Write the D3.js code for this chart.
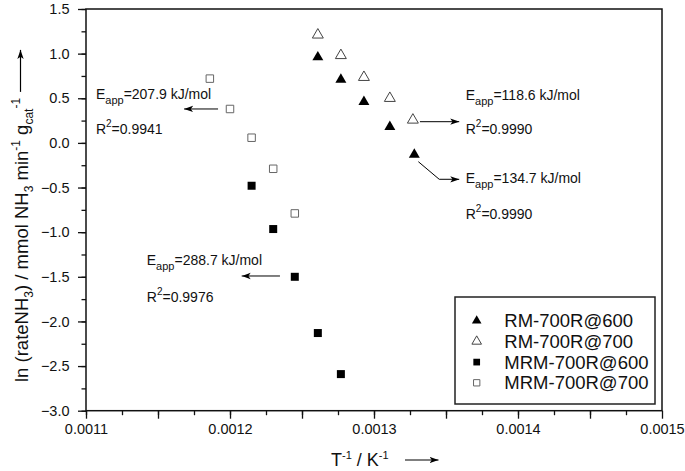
<!DOCTYPE html>
<html>
<head>
<meta charset="utf-8">
<script src="https://cdn.jsdelivr.net/npm/d3@7/dist/d3.min.js"></script>
<style>
  html, body { margin: 0; padding: 0; background: #fff; }
  svg { display: block; font-family: "Liberation Sans", Arial, sans-serif; }
</style>
</head>
<body>
<svg id="chart" width="685" height="471"></svg>
<script>
// ---- data ----
const seriesNames = ["RM-700R@600", "RM-700R@700", "MRM-700R@600", "MRM-700R@700"];
const rm600X  = [0.001261, 0.001277, 0.001293, 0.001311, 0.001328];
const rm600Y  = [0.96, 0.71, 0.46, 0.18, -0.13];
const rm700X  = [0.001261, 0.001277, 0.001293, 0.001311, 0.001327];
const rm700Y  = [1.21, 0.98, 0.735, 0.50, 0.257];
const mrm600X = [0.001215, 0.001230, 0.001245, 0.001261, 0.001277];
const mrm600Y = [-0.48, -0.965, -1.50, -2.13, -2.59];
const mrm700X = [0.001186, 0.001200, 0.001215, 0.001230, 0.001245];
const mrm700Y = [0.72, 0.38, 0.058, -0.29, -0.79];

const xTickLabels = [0.0011, 0.0012, 0.0013, 0.0014, 0.0015];
const yTickLabels = [1.5, 1.0, 0.5, 0.0, -0.5, -1.0, -1.5, -2.0, -2.5, -3.0];

// annotations (data coordinates)
const annEapp = ["207.9", "118.6", "134.7", "288.7"];
const annR2   = ["0.9941", "0.9990", "0.9990", "0.9976"];
const annTextX = [0.0011069, 0.0013637, 0.0013637, 0.0011422];
const annEY    = [0.497, 0.486, -0.449, -1.368];
const annRY    = [0.0997, 0.0997, -0.858, -1.782];
const annArrows = [
  [[0.0011917, 0.380], [0.0011681, 0.380]],
  [[0.0013319, 0.2375], [0.0013592, 0.2375]],
  [[0.0013308, -0.2105], [0.0013453, -0.4077], [0.0013592, -0.4077]],
  [[0.0012347, -1.491], [0.0012081, -1.491]]
];

// ---- layout ----
const svg = d3.select("#chart");
const L = 86, R = 662, T = 9, B = 410.7;
const x = d3.scaleLinear().domain([0.0011, 0.0015]).range([L, R]);
const y = d3.scaleLinear().domain([-3.0, 1.5]).range([B, T]);

// arrow marker
svg.append("defs").append("marker")
  .attr("id", "ah").attr("viewBox", "0 0 10 10").attr("refX", 10).attr("refY", 5)
  .attr("markerWidth", 9).attr("markerHeight", 9).attr("markerUnits", "userSpaceOnUse")
  .attr("orient", "auto")
  .append("path").attr("d", "M0,1.5 L10,5 L0,8.5 L2.5,5 Z").attr("fill", "#000");

// axes
const xMajor = d3.range(0, 9).map(i => 0.0011 + i * 0.00005);
const xMinor = d3.range(0, 16).map(i => 0.0011 + i * 0.000025);
const yMinor = d3.range(0, 19).map(i => -3.0 + i * 0.25);
const isXLab = d => xTickLabels.some(v => Math.abs(v - d) < 1e-9);

const gxMin = svg.append("g").attr("transform", `translate(0,${B})`)
  .call(d3.axisBottom(x).tickValues(xMinor).tickSize(4.5).tickFormat(""));
const gx = svg.append("g").attr("transform", `translate(0,${B})`)
  .call(d3.axisBottom(x).tickValues(xMajor).tickSize(8).tickPadding(5)
    .tickFormat(d => isXLab(d) ? d3.format(".4f")(d) : ""));
const gyMin = svg.append("g").attr("transform", `translate(${L},0)`)
  .call(d3.axisLeft(y).tickValues(yMinor).tickSize(4.5).tickFormat(""));
const gy = svg.append("g").attr("transform", `translate(${L},0)`)
  .call(d3.axisLeft(y).tickValues(yTickLabels).tickSize(8).tickPadding(8.5)
    .tickFormat(d3.format(".1f")));

[gxMin, gx, gyMin, gy].forEach(g => {
  g.select(".domain").remove();
  g.selectAll("line").attr("stroke", "#111").attr("stroke-width", 1.3);
  g.selectAll("text").attr("fill", "#111").attr("font-size", 14.5)
    .attr("font-family", "Liberation Sans, Arial, sans-serif");
});

// frame
svg.append("rect").attr("x", L).attr("y", T).attr("width", R - L).attr("height", B - T)
  .attr("fill", "none").attr("stroke", "#111").attr("stroke-width", 1.5);

// ---- marks ----
const tri = d3.symbol().type(d3.symbolTriangle);
const sq = d3.symbol().type(d3.symbolSquare);
const series = [
  { xs: rm600X,  ys: rm600Y,  shape: tri, size: 52, fill: "#000", stroke: "none" },
  { xs: rm700X,  ys: rm700Y,  shape: tri, size: 52, fill: "#fff", stroke: "#444" },
  { xs: mrm600X, ys: mrm600Y, shape: sq,  size: 64, fill: "#000", stroke: "none" },
  { xs: mrm700X, ys: mrm700Y, shape: sq,  size: 56, fill: "#fff", stroke: "#666" }
];
series.forEach(s => {
  svg.append("g").selectAll("path")
    .data(s.xs.map((v, i) => [v, s.ys[i]]))
    .join("path")
    .attr("transform", d => `translate(${x(d[0])},${y(d[1])})`)
    .attr("d", s.shape.size(s.size)())
    .attr("fill", s.fill).attr("stroke", s.stroke).attr("stroke-width", 1);
});

// ---- annotations ----
const line = d3.line().x(d => x(d[0])).y(d => y(d[1]));
annArrows.forEach(a => {
  svg.append("path").attr("d", line(a)).attr("fill", "none")
    .attr("stroke", "#000").attr("stroke-width", 1).attr("marker-end", "url(#ah)");
});
annEapp.forEach((e, i) => {
  const t = svg.append("text").attr("x", x(annTextX[i])).attr("y", y(annEY[i]))
    .attr("font-size", 14).attr("fill", "#111");
  t.append("tspan").text("E");
  t.append("tspan").attr("font-size", 11).attr("dy", 5).text("app");
  t.append("tspan").attr("dy", -5).text("=" + e + " kJ/mol");
  const r = svg.append("text").attr("x", x(annTextX[i])).attr("y", y(annRY[i]))
    .attr("font-size", 14).attr("fill", "#111");
  r.append("tspan").text("R");
  r.append("tspan").attr("font-size", 10).attr("dy", -7).text("2");
  r.append("tspan").attr("dy", 7).text("=" + annR2[i]);
});

// ---- legend ----
const lg = svg.append("g");
lg.append("rect").attr("x", 455).attr("y", 297).attr("width", 200).attr("height", 107)
  .attr("fill", "#fff").attr("stroke", "#222").attr("stroke-width", 1.5);
const legSym = [
  { shape: tri, size: 40, fill: "#000", stroke: "none" },
  { shape: tri, size: 40, fill: "#fff", stroke: "#444" },
  { shape: sq,  size: 45, fill: "#000", stroke: "none" },
  { shape: sq,  size: 40, fill: "#fff", stroke: "#666" }
];
seriesNames.forEach((n, i) => {
  const cy = 320.7 + i * 20.7;
  lg.append("path").attr("transform", `translate(476.7,${cy})`)
    .attr("d", legSym[i].shape.size(legSym[i].size)())
    .attr("fill", legSym[i].fill).attr("stroke", legSym[i].stroke).attr("stroke-width", 1);
  lg.append("text").attr("x", 504.3).attr("y", cy).attr("dy", "0.36em")
    .attr("font-size", 18.5).attr("fill", "#111").text(n);
});

// ---- axis titles ----
const xt = svg.append("text").attr("x", 331).attr("y", 466).attr("font-size", 18).attr("fill", "#111");
xt.append("tspan").text("T");
xt.append("tspan").attr("font-size", 11).attr("dy", -7).text("-1");
xt.append("tspan").attr("dy", 7).text(" / K");
xt.append("tspan").attr("font-size", 11).attr("dy", -7).text("-1");
svg.append("line").attr("x1", 405).attr("x2", 438.5).attr("y1", 460).attr("y2", 460)
  .attr("stroke", "#000").attr("stroke-width", 1.2).attr("marker-end", "url(#ah)");

const yg = svg.append("g").attr("transform", "translate(27.5,382) rotate(-90)");
const yt = yg.append("text").attr("x", 0).attr("y", 0).attr("font-size", 18.5).attr("fill", "#111");
yt.append("tspan").text("ln (rateNH");
yt.append("tspan").attr("font-size", 12).attr("dy", 5).text("3");
yt.append("tspan").attr("dy", -5).text(") / mmol NH");
yt.append("tspan").attr("font-size", 12).attr("dy", 5).text("3");
yt.append("tspan").attr("dy", -5).text(" min");
yt.append("tspan").attr("font-size", 12).attr("dy", -8).text("-1");
yt.append("tspan").attr("dy", 8).text(" g");
yt.append("tspan").attr("font-size", 12).attr("dy", 5).text("cat");
yt.append("tspan").attr("font-size", 12).attr("dy", -13).text("-1");
const tl = yt.node().getComputedTextLength();
yg.append("line").attr("x1", tl + 6).attr("x2", tl + 48).attr("y1", -7).attr("y2", -7)
  .attr("stroke", "#000").attr("stroke-width", 1.2).attr("marker-end", "url(#ah)");
</script>
</body>
</html>
